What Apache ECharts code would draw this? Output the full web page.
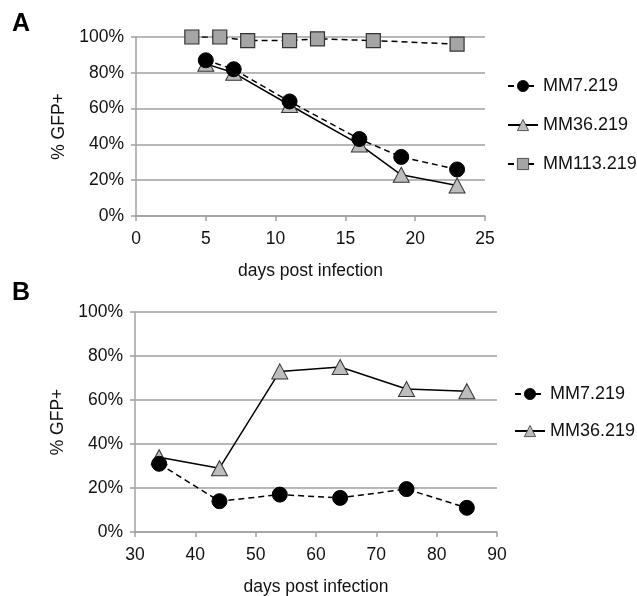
<!DOCTYPE html>
<html>
<head>
<meta charset="utf-8">
<script src="https://cdn.jsdelivr.net/npm/echarts@6/dist/echarts.min.js"></script>
<style>
  html, body { margin: 0; padding: 0; background: #fff; }
  #chart { width: 637px; height: 596px; }
</style>
</head>
<body>
<div id="chart"></div>
<script>
// panel A
var daysA = [5, 7, 11, 16, 19, 23];
var mm7A = [87, 82, 64, 43, 33, 26];
var mm36A = [85, 80, 62, 40, 23, 17];
var daysA113 = [4, 6, 8, 11, 13, 17, 23];
var mm113A = [100, 100, 98, 98, 99, 98, 96];

// panel B
var daysB = [34, 44, 54, 64, 75, 85];
var mm7B = [31, 14, 17, 15.5, 19.5, 11];
var mm36B = [34, 29, 73, 75, 65, 64];

var namesA = ['MM7.219', 'MM36.219', 'MM113.219'];
var namesB = ['MM7.219', 'MM36.219'];

function pairs(xs, ys) {
  return xs.map(function (x, i) { return [x, ys[i]]; });
}

var font = 'Liberation Sans, Arial, sans-serif';
var gridColor = '#a0a0a0';
var textColor = '#111';

function xAxisOf(idx, min, max, step, gap) {
  return {
    type: 'value', gridIndex: idx, min: min, max: max, interval: step,
    name: 'days post infection', nameLocation: 'middle', nameGap: gap,
    nameTextStyle: { fontSize: 17.5, color: textColor, fontFamily: font },
    axisLine: { show: true, lineStyle: { color: gridColor, width: 1.5 } },
    axisTick: { show: true, length: 5, lineStyle: { color: gridColor, width: 1.5 } },
    axisLabel: { fontSize: 17.5, color: textColor, fontFamily: font, margin: 14 },
    splitLine: { show: false }
  };
}

function yAxisOf(idx) {
  return {
    type: 'value', gridIndex: idx, min: 0, max: 100, interval: 20,
    name: '% GFP+', nameLocation: 'middle', nameGap: 64,
    nameTextStyle: { fontSize: 17.5, color: textColor, fontFamily: font },
    axisLine: { show: true, lineStyle: { color: gridColor, width: 1.5 } },
    axisTick: { show: true, length: 5, lineStyle: { color: gridColor, width: 1.5 } },
    axisLabel: { fontSize: 17.5, color: textColor, fontFamily: font, margin: 12, formatter: '{value}%' },
    splitLine: { show: true, lineStyle: { color: gridColor, width: 1.5 } }
  };
}

var circle = { symbol: 'circle', symbolSize: 15, itemStyle: { color: '#000', borderColor: '#000', borderWidth: 1 } };
var tri = { symbol: 'triangle', symbolSize: [16, 15], itemStyle: { color: '#bdbdbd', borderColor: '#333', borderWidth: 1 } };
var sq = { symbol: 'rect', symbolSize: 14, itemStyle: { color: '#a5a5a5', borderColor: '#333', borderWidth: 1.2 } };

function lineSeries(name, data, xi, yi, marker, dashed) {
  return {
    name: name, type: 'line', xAxisIndex: xi, yAxisIndex: yi, data: data,
    symbol: marker.symbol, symbolSize: marker.symbolSize, itemStyle: marker.itemStyle,
    lineStyle: { color: '#000', width: 1.5, type: dashed ? [6, 4] : 'solid' },
    animation: false, z: dashed ? 3 : 2
  };
}

var chart = echarts.init(document.getElementById('chart'));
chart.setOption({
  backgroundColor: '#fff',
  animation: false,
  title: [
    { text: 'A', left: 12, top: 12, padding: 0, textStyle: { fontSize: 25, fontWeight: 'bold', color: '#000', fontFamily: font } },
    { text: 'B', left: 12, top: 281, padding: 0, textStyle: { fontSize: 25, fontWeight: 'bold', color: '#000', fontFamily: font } }
  ],
  grid: [
    { left: 136, top: 37, width: 349, height: 179, outerBoundsMode: 'none' },
    { left: 135, top: 312, width: 362, height: 220, outerBoundsMode: 'none' }
  ],
  legend: [
    {
      data: namesA, orient: 'vertical', left: 507, top: 77, padding: 0, itemWidth: 30, itemHeight: 14, itemGap: 21,
      itemStyle: { borderWidth: 0.8 },
      textStyle: { fontSize: 18, color: textColor, fontFamily: font }, selectedMode: false
    },
    {
      data: namesB, orient: 'vertical', left: 514, top: 385, padding: 0, itemWidth: 30, itemHeight: 14, itemGap: 19,
      itemStyle: { borderWidth: 0.8 },
      textStyle: { fontSize: 18, color: textColor, fontFamily: font }, selectedMode: false
    }
  ],
  xAxis: [xAxisOf(0, 0, 25, 5, 46), xAxisOf(1, 30, 90, 10, 46)],
  yAxis: [yAxisOf(0), yAxisOf(1)],
  series: [
    lineSeries('MM7.219', pairs(daysA, mm7A), 0, 0, circle, true),
    lineSeries('MM36.219', pairs(daysA, mm36A), 0, 0, tri, false),
    lineSeries('MM113.219', pairs(daysA113, mm113A), 0, 0, sq, true),
    lineSeries('MM7.219', pairs(daysB, mm7B), 1, 1, circle, true),
    lineSeries('MM36.219', pairs(daysB, mm36B), 1, 1, tri, false)
  ]
});
</script>
</body>
</html>
